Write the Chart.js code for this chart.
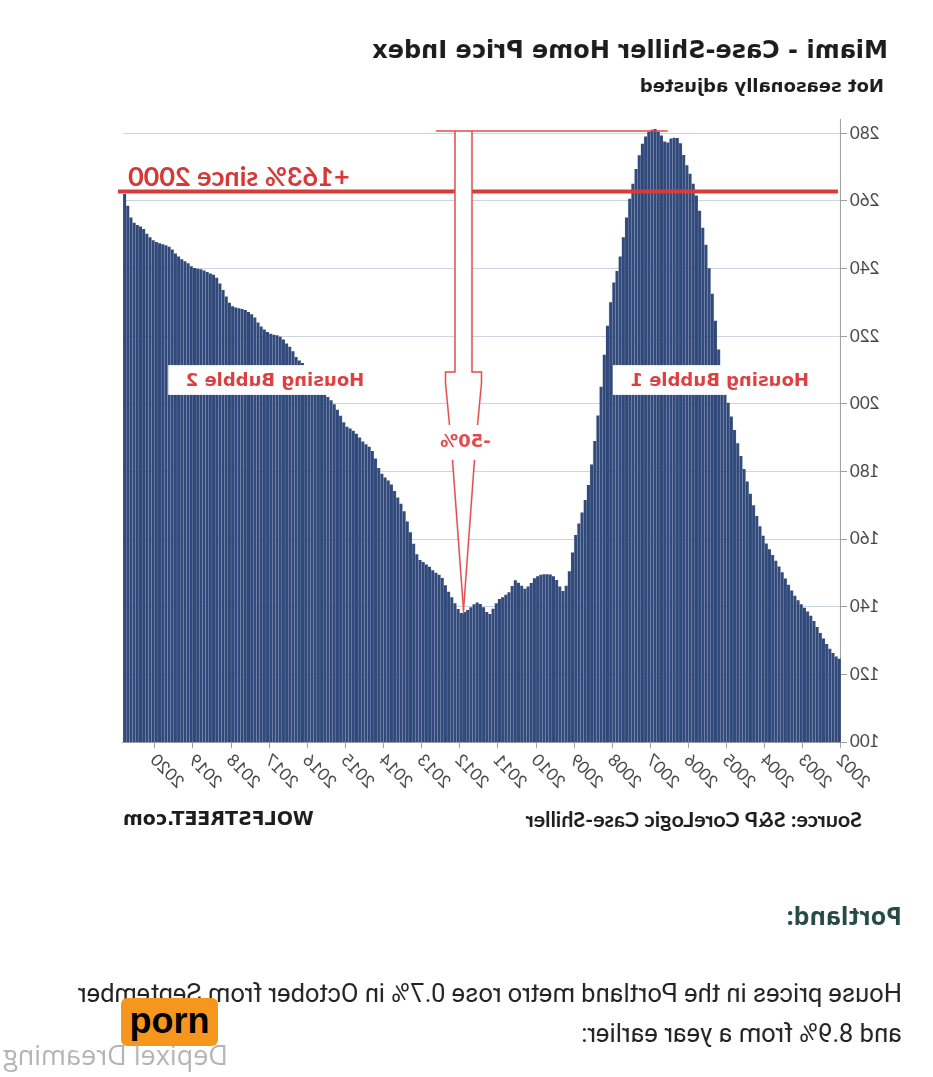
<!DOCTYPE html>
<html>
<head>
<meta charset="utf-8">
<script src="https://cdn.jsdelivr.net/npm/chart.js@4.4.0/dist/chart.umd.min.js"></script>
<style>
html, body { margin: 0; padding: 0; background: #fff; }
#page { position: relative; width: 933px; height: 1077px; overflow: hidden; transform: scaleX(-1); }
#chartBox { position: absolute; left: 0; top: 0; width: 933px; height: 860px; }
.portland { position: absolute; left: 31px; top: 899px; font: bold 25px 'Open Sans'; line-height: 32px; color: #264a43; }
.para { position: absolute; left: 31px; top: 973px; font: 25.5px Roboto; line-height: 40px; color: #222; white-space: nowrap; }
.wm { position: absolute; right: 3px; top: 1040px; font: 27px 'Open Sans'; line-height: 30px; color: #b4b4b4; }
#badge { position: absolute; left: 121px; top: 998px; width: 97px; height: 48px; background: #f7961c; border-radius: 6px;
  font: bold 36px 'Liberation Sans'; line-height: 46px; text-align: center; color: #000; }
</style>
</head>
<body>
<div id="page">
  <div id="chartBox"><canvas id="myChart"></canvas></div>
  <div class="portland">Portland:</div>
  <div class="para">House prices in the Portland metro rose 0.7% in October from September<br>and 8.9% from a year earlier:</div>
  <div class="wm">Depixel Dreaming</div>
</div>
<div id="badge">porn</div>

<script>
// Miami Case-Shiller index, monthly, not seasonally adjusted
const y2002 = [124.6, 125.3, 126.3, 127.6, 129.0, 130.6, 132.2, 134.0, 135.8, 137.3, 138.6, 139.7];
const y2003 = [140.7, 141.9, 143.2, 144.8, 146.5, 148.3, 150.2, 151.9, 153.6, 155.3, 157.0, 158.7];
const y2004 = [161.0, 163.8, 166.8, 170.0, 173.4, 177.0, 180.7, 184.5, 188.3, 192.2, 196.2, 200.3];
const y2005 = [205.0, 210.0, 216.0, 224.5, 232.5, 240.0, 247.0, 252.0, 257.0, 261.5, 265.0, 268.0];
const y2006 = [270.5, 273.5, 277.0, 278.5, 278.6, 278.4, 277.2, 277.5, 279.3, 280.4, 281.2, 281.0];
const y2007 = [280.4, 279.0, 276.8, 273.4, 269.4, 265.0, 260.6, 255.0, 249.2, 243.5, 239.2, 235.8];
const y2008 = [230.0, 223.0, 214.5, 205.0, 196.5, 189.0, 182.0, 176.0, 171.5, 167.8, 164.6, 161.2];
const y2009 = [156.0, 150.5, 146.2, 144.6, 146.0, 147.9, 149.0, 149.5, 149.6, 149.6, 149.4, 149.0];
const y2010 = [148.4, 147.0, 146.0, 145.3, 146.2, 147.1, 147.8, 146.1, 144.3, 143.5, 142.8, 142.3];
const y2011 = [141.0, 139.4, 137.8, 138.4, 139.8, 140.8, 141.2, 140.7, 139.8, 139.0, 138.4, 138.1];
const y2012 = [139.3, 141.0, 142.8, 144.4, 146.3, 148.5, 149.4, 150.0, 150.8, 151.8, 152.5, 153.2];
const y2013 = [153.8, 155.5, 158.6, 162.0, 165.2, 168.2, 170.4, 172.3, 174.2, 176.1, 177.3, 178.2];
const y2014 = [179.3, 181.0, 183.8, 186.0, 187.3, 188.0, 188.8, 190.0, 191.1, 192.0, 192.7, 193.2];
const y2015 = [194.5, 196.4, 198.2, 199.8, 201.0, 202.0, 203.0, 204.5, 206.0, 207.5, 209.0, 210.2];
const y2016 = [211.2, 212.0, 212.8, 213.8, 215.5, 216.8, 217.8, 219.0, 219.8, 220.2, 220.4, 220.7];
const y2017 = [221.2, 221.9, 222.8, 224.0, 225.5, 226.4, 227.1, 227.7, 228.0, 228.2, 228.4, 228.8];
const y2018 = [229.8, 231.7, 233.6, 235.5, 237.2, 238.1, 238.5, 238.9, 239.4, 239.7, 239.9, 240.1];
const y2019 = [240.6, 241.5, 242.1, 242.7, 243.5, 244.4, 245.6, 246.4, 246.8, 247.1, 247.4, 247.8];
const y2020 = [248.3, 249.2, 250.2, 251.6, 252.4, 252.8, 253.5, 255.0, 258.5, 262.0];

const yearLabels = ['2002', '2003', '2004', '2005', '2006', '2007', '2008', '2009', '2010', '2011',
                    '2012', '2013', '2014', '2015', '2016', '2017', '2018', '2019', '2020'];
const yTicks = [100, 120, 140, 160, 180, 200, 220, 240, 260, 280];

// annotation levels (index values)
const sinceLevel = 262.7;   // "+163% since 2000" line
const peakLevel = 280.6;    // top of the -50% arrow
const troughLevel = 139.0;  // arrow tip

const index = [].concat(y2002, y2003, y2004, y2005, y2006, y2007, y2008, y2009, y2010, y2011,
                        y2012, y2013, y2014, y2015, y2016, y2017, y2018, y2019, y2020);
const months = [];
for (let i = 0; i < index.length; i++) {
    months.push(yearLabels[Math.floor(i / 12)] + '-' + (i % 12 + 1));
}

const extras = {
    id: 'extras',
    afterDatasetsDraw(chart) {
        const c = chart.ctx;
        const x = chart.scales.x;
        const y = chart.scales.y;
        const area = chart.chartArea;
        c.save();

        // +163% line
        const yLine = y.getPixelForValue(sinceLevel);
        c.strokeStyle = '#d83b3a';
        c.lineWidth = 4;
        c.beginPath();
        c.moveTo(area.left + 3, yLine);
        c.lineTo(area.right + 5, yLine);
        c.stroke();
        c.fillStyle = '#d43837';
        c.font = 'bold 27px Lato';
        c.textAlign = 'right';
        c.textBaseline = 'alphabetic';
        c.fillText('+163% since 2000', area.right - 5, yLine - 6);

        // -50% arrow
        const cx = x.getPixelForValue(118) + 1;
        const yTop = y.getPixelForValue(peakLevel);
        const yS = y.getPixelForValue(209.4);
        const yH = y.getPixelForValue(206.1);
        const yT1 = y.getPixelForValue(193.7);
        const yT2 = y.getPixelForValue(183.4);
        const yTip = y.getPixelForValue(troughLevel);
        const left = [[-8.5, yTop], [-8.5, yS], [-18, yS], [-18, yH], [-14, yT1], [-11, yT2], [0, yTip]];
        c.beginPath();
        left.forEach((p, k) => k === 0 ? c.moveTo(cx + p[0], p[1]) : c.lineTo(cx + p[0], p[1]));
        for (let k = left.length - 1; k >= 0; k--) c.lineTo(cx - left[k][0], left[k][1]);
        c.closePath();
        c.fillStyle = '#fff';
        c.fill();
        c.strokeStyle = '#e04a4a';
        c.lineWidth = 1.5;
        [1, -1].forEach(s => {
            c.beginPath();
            for (let k = 0; k <= 4; k++) {
                k === 0 ? c.moveTo(cx + s * left[k][0], left[k][1]) : c.lineTo(cx + s * left[k][0], left[k][1]);
            }
            c.stroke();
            c.beginPath();
            c.moveTo(cx + s * left[5][0], left[5][1]);
            c.lineTo(cx, yTip);
            c.stroke();
        });
        c.beginPath();
        c.moveTo(cx, yTip);
        c.lineTo(cx, yTip + 4);
        c.stroke();
        c.beginPath();
        c.moveTo(x.getPixelForValue(54), yTop);
        c.lineTo(x.getPixelForValue(127), yTop);
        c.stroke();
        c.fillStyle = '#e04a4a';
        c.font = 'bold 18px "DejaVu Sans"';
        c.textAlign = 'center';
        c.textBaseline = 'middle';
        c.fillText('-50%', cx - 2, (yT1 + yT2) / 2);

        // bubble labels
        const bTop = y.getPixelForValue(211.4);
        const bBot = y.getPixelForValue(202.6);
        [[8, 'Housing Bubble 1'], [148, 'Housing Bubble 2']].forEach(b => {
            const bx = x.getPixelForValue(b[0]);
            c.fillStyle = '#fff';
            c.fillRect(bx, bTop, 201, bBot - bTop);
            c.fillStyle = '#de3f3e';
            c.font = 'bold 18px "DejaVu Sans"';
            c.textAlign = 'left';
            c.textBaseline = 'middle';
            c.fillText(b[1], bx + 5, (bTop + bBot) / 2 + 1);
        });
        c.restore();
    },
    afterDraw(chart) {
        const c = chart.ctx;
        c.save();
        c.fillStyle = '#1c1c1c';
        c.textBaseline = 'middle';
        c.textAlign = 'left';
        c.font = 'bold 24px "DejaVu Sans"';
        c.fillText('Miami - Case-Shiller Home Price Index', 45, 52);
        c.font = 'bold 18px "DejaVu Sans"';
        c.fillText('Not seasonally adjusted', 49, 87);
        c.font = 'bold 21.5px Lato';
        c.fillText('Source: S&P CoreLogic Case-Shiller', 71, 820);
        c.textAlign = 'right';
        c.font = 'bold 19px "DejaVu Sans"';
        c.fillText('WOLFSTREET.com', chart.chartArea.right, 820);
        c.restore();
    }
};

var ctx = document.getElementById('myChart').getContext('2d');

var myChart = new Chart(ctx, {
    type: 'bar',
    data: {
        labels: months,
        datasets: [
            {
                label: 'Miami',
                data: index,
                backgroundColor: '#30497a',
                borderWidth: 0,
                barPercentage: 0.95,
                categoryPercentage: 1.0
            }
        ]
    },
    options: {
        responsive: true,
        maintainAspectRatio: false,
        animation: false,
        layout: {
            padding: { left: 52, right: 123, top: 119.5, bottom: 48 }
        },
        plugins: {
            legend: { display: false },
            tooltip: { enabled: false }
        },
        scales: {
            x: {
                afterFit: function (scale) { scale.height = 70; },
                border: { color: '#9c9c9c', width: 1 },
                grid: {
                    drawOnChartArea: false,
                    drawTicks: true,
                    tickLength: 6,
                    tickColor: function (c) { return c.index % 12 === 0 ? '#9c9c9c' : 'rgba(0,0,0,0)'; }
                },
                ticks: {
                    autoSkip: false,
                    minRotation: 45,
                    maxRotation: 45,
                    padding: 2,
                    color: '#444',
                    font: { family: 'Lato', size: 17 },
                    callback: function (val, i) { return i % 12 === 0 ? yearLabels[i / 12] : ''; }
                }
            },
            y: {
                min: 100,
                max: 284,
                afterFit: function (scale) { scale.width = 40; },
                afterBuildTicks: function (scale) {
                    scale.ticks = yTicks.map(v => ({ value: v }));
                },
                border: { color: '#9c9c9c', width: 1 },
                grid: {
                    color: '#cbd5e2',
                    tickColor: '#9c9c9c',
                    tickLength: 6
                },
                ticks: {
                    stepSize: 20,
                    includeBounds: false,
                    padding: 3,
                    color: '#444',
                    font: { family: 'Lato', size: 17 }
                }
            }
        }
    },
    plugins: [extras]
});
</script>
</body>
</html>
